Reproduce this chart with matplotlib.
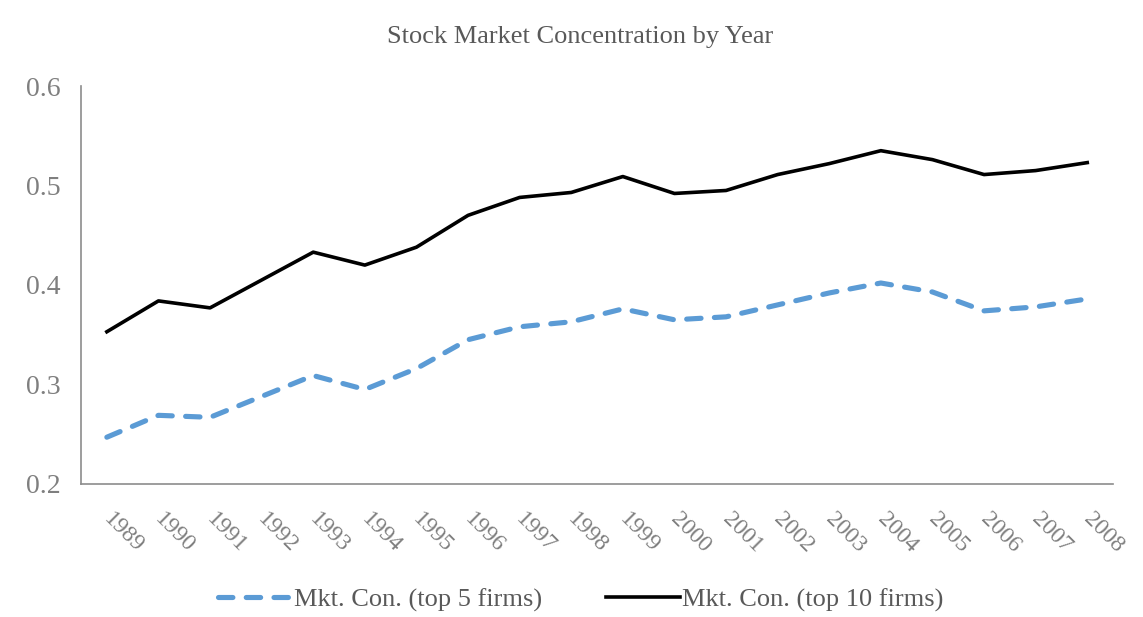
import matplotlib.pyplot as plt
from matplotlib.transforms import ScaledTranslation

years = [str(y) for y in range(1989, 2009)]
top5 = [0.247, 0.269, 0.267, 0.288, 0.309, 0.295, 0.316, 0.345, 0.358, 0.363,
        0.376, 0.365, 0.368, 0.380, 0.392, 0.402, 0.393, 0.374, 0.378, 0.386]
top10 = [0.353, 0.384, 0.377, 0.405, 0.433, 0.420, 0.438, 0.470, 0.488, 0.493,
         0.509, 0.492, 0.495, 0.511, 0.522, 0.535, 0.526, 0.511, 0.515, 0.523]
yticks = [0.2, 0.3, 0.4, 0.5, 0.6]

plt.rcParams["font.family"] = ["Liberation Serif", "DejaVu Serif"]

fig = plt.figure(figsize=(11.43, 6.17), dpi=100)
ax = fig.add_axes([0.0709, 0.2156, 0.9029, 0.645])

x = list(range(len(years)))
ax.plot(x, top5, color="#5B9BD5", linewidth=3.7, linestyle=(0, (2.8, 2.6)),
        dash_capstyle="round", dash_joinstyle="round",
        label="Mkt. Con. (top 5 firms)")
ax.plot(x, top10, color="black", linewidth=2.6, solid_joinstyle="round",
        label="Mkt. Con. (top 10 firms)")

ax.set_xlim(-0.5, len(years) - 0.5)
ax.set_ylim(0.2, 0.6)
ax.set_yticks(yticks)
ax.set_yticklabels([f"{v:.1f}" for v in yticks])
ax.set_xticks(x)
ax.set_xticklabels(years, rotation=-45, ha="left", va="top", rotation_mode="anchor")

for side in ["top", "right"]:
    ax.spines[side].set_visible(False)
for side in ["left", "bottom"]:
    ax.spines[side].set_color("#8c8c8c")
    ax.spines[side].set_linewidth(1.2)

ax.tick_params(axis="both", length=0, colors="#7f7f7f")
ax.tick_params(axis="y", labelsize=20, pad=15)
ax.tick_params(axis="x", labelsize=17, pad=18)
shift = ScaledTranslation(7 / 100, 0, fig.dpi_scale_trans)
for lab in ax.get_xticklabels():
    lab.set_transform(lab.get_transform() + shift)

fig.text(0.5075, 0.94, "Stock Market Concentration by Year", ha="center", va="center",
         fontsize=19, color="#595959")

leg = fig.legend(loc="center", bbox_to_anchor=(0.508, 0.028), ncol=2, frameon=False,
                 fontsize=19, handlelength=2.8, handletextpad=0.1, columnspacing=2.4)
for t in leg.get_texts():
    t.set_color("#595959")

fig.savefig("out.png", dpi=100)
